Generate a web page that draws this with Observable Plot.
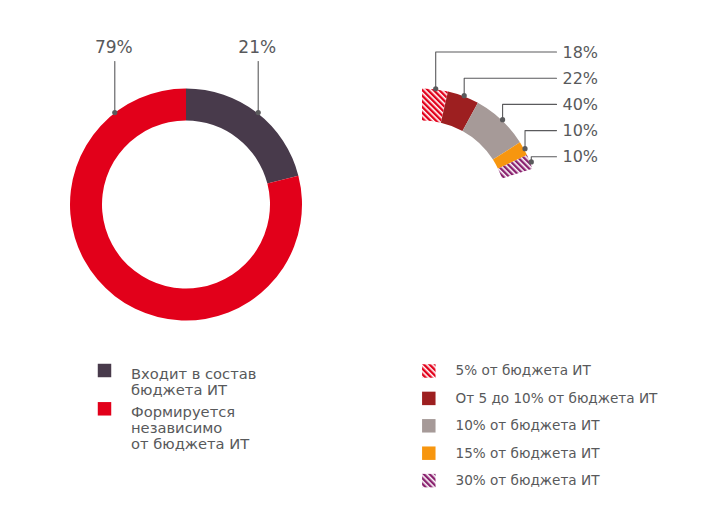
<!DOCTYPE html>
<html><head><meta charset="utf-8">
<script src="https://cdn.jsdelivr.net/npm/d3@7"></script>
<script src="https://cdn.jsdelivr.net/npm/@observablehq/plot@0.6"></script>
<style>html,body{margin:0;padding:0;background:#fff;}</style>
</head><body><div id="chart"></div>
<script>
// ---- data ----
const budgetCategories = ["Входит в состав\nбюджета ИТ", "Формируется\nнезависимо\nот бюджета ИТ"];
const budgetShares = [21, 79];
const budgetLabels = ["21%", "79%"];
const detailCategories = ["5% от бюджета ИТ", "От 5 до 10% от бюджета ИТ", "10% от бюджета ИТ", "15% от бюджета ИТ", "30% от бюджета ИТ"];
const detailShares = [18, 22, 40, 10, 10];
const detailLabels = ["18%", "22%", "40%", "10%", "10%"];

// ---- styles ----
const budgetColors = ["#483a4b", "#e2001a"];
const detailColors = ["url(#hatch-red)", "#9d1f20", "#a69a98", "#f7960f", "url(#hatch-purple)"];
const textColor = "#58595b";
const lineColor = "#5a5a5c";
const font = "DejaVu Sans, sans-serif";

// ---- layout ----
const W = 713, H = 517;
const outerR = 116, innerR = 84;
const mainC = [186, 204.5];
const detailC = [422, 204.5];
const detailSpan = 72 * Math.PI / 180;

const mainPie = d3.pie().sort(null)(budgetShares);
const detailPie = d3.pie().sort(null).startAngle(0).endAngle(detailSpan)(detailShares);

const polar = (c, a, r) => ({x: c[0] + r * Math.sin(a), y: c[1] - r * Math.cos(a)});
const mid = p => (p.startAngle + p.endAngle) / 2;

const mainArcs = mainPie.map((p, i) => ({cx: mainC[0], cy: mainC[1], startAngle: p.startAngle, endAngle: p.endAngle, fill: budgetColors[i]}));
const detailArcs = detailPie.map((p, i) => ({cx: detailC[0], cy: detailC[1], startAngle: p.startAngle, endAngle: p.endAngle, fill: detailColors[i]}));

function arcMark(arcs) {
  return Plot.dot(arcs, {x: "cx", y: "cy", render(index, scales, values) {
    const g = d3.create("svg:g");
    const arc = d3.arc().innerRadius(innerR).outerRadius(outerR);
    for (const i of index) {
      const a = arcs[i];
      g.append("path")
        .attr("transform", `translate(${values.x[i]},${values.y[i]})`)
        .attr("d", arc(a))
        .attr("fill", a.fill);
    }
    return g.node();
  }});
}

function addHatch(d, id, color) {
  const p = d.append("pattern").attr("id", id).attr("patternUnits", "userSpaceOnUse")
    .attr("width", 4).attr("height", 4).attr("patternTransform", "rotate(45)");
  p.append("rect").attr("width", 4).attr("height", 4).attr("fill", color);
  p.append("rect").attr("width", 4).attr("height", 1.6).attr("fill", "#fff");
}
function defsMark() {
  const d = d3.create("svg:defs");
  addHatch(d, "hatch-red", "#e2001a");
  addHatch(d, "hatch-purple", "#8a226f");
  return d.node();
}

// leaders, main donut (21% at mid-angle, 79% mirrored)
const mainLabelY = 47;
const mainDots = [polar(mainC, mid(mainPie[0]), 117), polar(mainC, -mid(mainPie[0]), 117)];
const mainLeaders = mainDots.flatMap((p, i) => [{x: p.x, y: mainLabelY + 14, s: i}, {x: p.x, y: p.y, s: i}]);

// leaders, detail arc
const detailLabelY = detailLabels.map((d, i) => 51.5 + 26.2 * i);
const detailDots = detailPie.map(p => polar(detailC, mid(p), 117));
const leaderEndX = 556;
const detailLeaders = detailDots.flatMap((p, i) => [
  {x: p.x, y: p.y, s: i}, {x: p.x, y: detailLabelY[i], s: i}, {x: leaderEndX, y: detailLabelY[i], s: i}
]);

// legends
const leftLegendY = [370, 408.3];
const rightLegendY = detailCategories.map((d, i) => 370.5 + 27.4 * i);

const chart = Plot.plot({
  width: W, height: H, margin: 0,
  x: {domain: [0, W], range: [0, W], axis: null},
  y: {domain: [0, H], range: [0, H], axis: null},
  color: {type: "identity"},
  style: {fontFamily: font, background: "#fff", overflow: "visible"},
  marks: [
    defsMark,
    arcMark(mainArcs),
    arcMark(detailArcs),
    Plot.line(mainLeaders, {x: "x", y: "y", z: "s", stroke: lineColor, strokeWidth: 1.1}),
    Plot.dot(mainDots, {x: "x", y: "y", r: 2.6, fill: lineColor}),
    Plot.text(budgetLabels, {x: (d, i) => mainDots[i].x - 1, y: () => mainLabelY, text: d => d,
      fontSize: 17, fill: textColor, lineAnchor: "middle"}),
    Plot.line(detailLeaders, {x: "x", y: "y", z: "s", stroke: lineColor, strokeWidth: 1.1}),
    Plot.dot(detailDots, {x: "x", y: "y", r: 2.6, fill: lineColor}),
    Plot.text(detailLabels, {x: () => leaderEndX + 6, y: (d, i) => detailLabelY[i] + 0.5, text: d => d,
      fontSize: 16, fill: textColor, textAnchor: "start", lineAnchor: "middle"}),
    // left legend
    Plot.dot(budgetCategories, {x: () => 104, y: (d, i) => leftLegendY[i], symbol: "square", r: 7.6,
      fill: (d, i) => budgetColors[i]}),
    Plot.text(budgetCategories, {x: () => 130.5, y: (d, i) => leftLegendY[i] - 3.3, text: d => d,
      fontSize: 14.7, lineHeight: 1.1, fill: textColor, textAnchor: "start", lineAnchor: "top"}),
    // right legend
    Plot.dot(detailCategories, {x: () => 428.3, y: (d, i) => rightLegendY[i], symbol: "square", r: 7.6,
      fill: (d, i) => detailColors[i]}),
    Plot.text(detailCategories, {x: () => 455, y: (d, i) => rightLegendY[i], text: d => d,
      fontSize: 13.6, fill: textColor, textAnchor: "start", lineAnchor: "middle"})
  ]
});
document.getElementById("chart").appendChild(chart);
</script>
</body></html>
